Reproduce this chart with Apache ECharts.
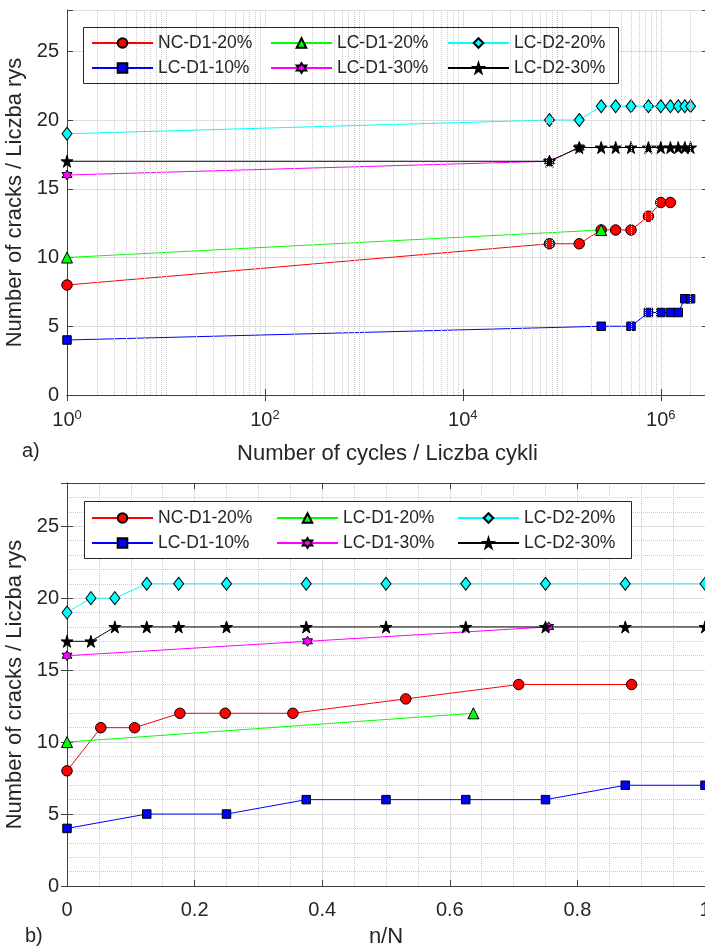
<!DOCTYPE html>
<html>
<head>
<meta charset="utf-8">
<script src="https://cdn.jsdelivr.net/npm/echarts@6/dist/echarts.min.js"></script>
<style>
  html, body { margin: 0; padding: 0; background: #ffffff; }
  #chart { width: 705px; height: 948px; }
</style>
</head>
<body>
<div id="chart"></div>
<script>
// a) number of cycles (log scale)
const ncD1_20_n = [1, 75000, 150000, 250000, 350000, 500000, 750000, 1000000, 1250000]
const lcD1_10_n = [1, 250000, 500000, 750000, 1000000, 1250000, 1500000, 1750000, 2000000]
const lcD1_20_n = [1, 250000]
const lcD1_30_n = [1, 75000, 150000]
const lcD2_20_n = [1, 75000, 150000, 250000, 350000, 500000, 750000, 1000000, 1250000, 1500000, 1750000, 2000000]
const lcD2_30_n = [1, 75000, 150000, 250000, 350000, 500000, 750000, 1000000, 1250000, 1500000, 1750000, 2000000]

// b) relative life n/N
const ncD1_20_r = [0, 0.053, 0.106, 0.177, 0.248, 0.354, 0.531, 0.708, 0.885]
const lcD1_10_r = [0, 0.125, 0.25, 0.375, 0.5, 0.625, 0.75, 0.875, 1]
const lcD1_20_r = [0, 0.637]
const lcD1_30_r = [0, 0.377, 0.755]
const lcD2_20_r = [0, 0.0375, 0.075, 0.125, 0.175, 0.25, 0.375, 0.5, 0.625, 0.75, 0.875, 1]
const lcD2_30_r = [0, 0.0375, 0.075, 0.125, 0.175, 0.25, 0.375, 0.5, 0.625, 0.75, 0.875, 1]

// number of cracks (same for both panels)
const ncD1_20_y = [8, 11, 11, 12, 12, 12, 13, 14, 14]
const lcD1_10_y = [4, 5, 5, 6, 6, 6, 6, 7, 7]
const lcD1_20_y = [10, 12]
const lcD1_30_y = [16, 17, 18]
const lcD2_20_y = [19, 20, 20, 21, 21, 21, 21, 21, 21, 21, 21, 21]
const lcD2_30_y = [17, 17, 18, 18, 18, 18, 18, 18, 18, 18, 18, 18]

const yTicks = [0, 5, 10, 15, 20, 25]

const FONT = '"Liberation Sans", Arial, Helvetica, sans-serif'
const AXIS = '#404040'
const TXT = '#262626'
const GRID = '#dedede'
const MINOR = '#c9c9c9'

const STAR = 'path://M50,0 L61,35 L98,35 L68,57 L79,91 L50,70 L21,91 L32,57 L2,35 L39,35 Z'
const HEXA = 'path://M50,0 L64,25 L93,25 L79,50 L93,75 L64,75 L50,100 L36,75 L7,75 L21,50 L7,25 L36,25 Z'

const styles = [
  { name: 'NC-D1-20%', color: '#ff0000', symbol: 'circle', size: 10.5 },
  { name: 'LC-D1-10%', color: '#0000ff', symbol: 'rect', size: 8.5 },
  { name: 'LC-D1-20%', color: '#00ff00', symbol: 'triangle', size: 11 },
  { name: 'LC-D1-30%', color: '#ff00ff', symbol: HEXA, size: 10 },
  { name: 'LC-D2-20%', color: '#00ffff', symbol: 'diamond', size: [10, 13] },
  { name: 'LC-D2-30%', color: '#000000', symbol: STAR, size: 12 }
]

const panelA = [
  [ncD1_20_n, ncD1_20_y], [lcD1_10_n, lcD1_10_y], [lcD1_20_n, lcD1_20_y],
  [lcD1_30_n, lcD1_30_y], [lcD2_20_n, lcD2_20_y], [lcD2_30_n, lcD2_30_y]
]
const panelB = [
  [ncD1_20_r, ncD1_20_y], [lcD1_10_r, lcD1_10_y], [lcD1_20_r, lcD1_20_y],
  [lcD1_30_r, lcD1_30_y], [lcD2_20_r, lcD2_20_y], [lcD2_30_r, lcD2_30_y]
]

function makeSeries(panel, idx) {
  return panel.map((d, i) => {
    const s = styles[i]
    return {
      name: s.name,
      type: 'line',
      xAxisIndex: idx * 2,
      yAxisIndex: idx * 2,
      data: d[0].map((x, k) => [x, d[1][k]]),
      symbol: s.symbol,
      symbolSize: s.size,
      showAllSymbol: true,
      clip: false,
      z: 2,
      lineStyle: { color: s.color, width: 1 },
      itemStyle: { color: s.color, borderColor: '#000000', borderWidth: 1 }
    }
  })
}

// minor (dotted) grid lines of the log axis: 2..9 x 10^k and odd decades
const logMinor = []
for (let d = 0; d <= 6; d++) {
  for (let k = 1; k <= 9; k++) {
    const v = k * Math.pow(10, d)
    if (v >= 3000000) continue
    if (k === 1 && d % 2 === 0) continue
    logMinor.push(v)
  }
}

const tickLabel = { color: TXT, fontSize: 20, fontFamily: FONT }
const titleText = { color: TXT, fontSize: 22, fontFamily: FONT }

function yAxisPair(grid) {
  return [{
    gridIndex: grid,
    type: 'value',
    min: 0,
    max: 28,
    interval: 5,
    name: 'Number of cracks / Liczba rys',
    nameLocation: 'middle',
    nameGap: 32,
    nameTextStyle: titleText,
    axisLine: { show: true, lineStyle: { color: AXIS } },
    axisTick: { show: true, inside: true, length: 6, lineStyle: { color: AXIS } },
    axisLabel: Object.assign({ margin: 8, formatter: v => (yTicks.indexOf(v) >= 0 ? String(v) : '') }, tickLabel),
    splitLine: { show: true, lineStyle: { color: GRID } },
    minorTick: { show: false, splitNumber: 5 },
    minorSplitLine: { show: grid === 1, lineStyle: { color: MINOR, type: 'dotted' } }
  }, {
    gridIndex: grid,
    type: 'value',
    position: 'right',
    min: 0,
    max: 28,
    interval: 5,
    axisLine: { show: true, lineStyle: { color: AXIS } },
    axisTick: { show: true, inside: true, length: 6, lineStyle: { color: AXIS } },
    axisLabel: { show: false },
    splitLine: { show: false }
  }]
}

const legendBase = {
  orient: 'vertical',
  z: 6,
  itemWidth: 61,
  itemHeight: 12,
  itemGap: 7,
  padding: 0,
  selectedMode: false,
  textStyle: { color: TXT, fontSize: 17.5, lineHeight: 18, fontFamily: FONT }
}

function legendCols(lefts, top) {
  const cols = [['NC-D1-20%', 'LC-D1-10%'], ['LC-D1-20%', 'LC-D1-30%'], ['LC-D2-20%', 'LC-D2-30%']]
  return cols.map((names, i) => Object.assign({}, legendBase, { left: lefts[i], top: top, data: names }))
}

const chart = echarts.init(document.getElementById('chart'))
chart.setOption({
  backgroundColor: '#ffffff',
  animation: false,
  grid: [
    { left: 67, top: 10, width: 641, height: 385, containLabel: false, outerBoundsMode: 'none' },
    { left: 67, top: 483, width: 638, height: 403, containLabel: false, outerBoundsMode: 'none' }
  ],
  xAxis: [{
    gridIndex: 0,
    type: 'log',
    logBase: 10,
    min: 1,
    max: 3000000,
    interval: 2,
    name: 'Number of cycles / Liczba cykli',
    nameLocation: 'middle',
    nameGap: 48,
    nameTextStyle: titleText,
    axisLine: { show: true, lineStyle: { color: AXIS } },
    axisTick: { show: true, inside: true, length: 6, lineStyle: { color: AXIS } },
    axisLabel: {
      margin: 14,
      showMaxLabel: false,
      formatter: v => {
        const e = Math.log10(v)
        if (Math.abs(e - Math.round(e)) > 1e-6) return ''
        return '{b|10}{s|' + Math.round(e) + '}'
      },
      rich: {
        b: { fontSize: 20, color: TXT, fontFamily: FONT, lineHeight: 22 },
        s: { fontSize: 13, color: TXT, fontFamily: FONT, verticalAlign: 'top', lineHeight: 13 }
      }
    },
    splitLine: { show: true, lineStyle: { color: GRID } }
  }, {
    gridIndex: 0,
    type: 'log',
    logBase: 10,
    min: 1,
    max: 3000000,
    interval: 2,
    position: 'top',
    axisLine: { show: true, lineStyle: { color: AXIS } },
    axisTick: { show: true, inside: true, length: 6, lineStyle: { color: AXIS } },
    axisLabel: { show: false },
    splitLine: { show: false }
  }, {
    gridIndex: 1,
    type: 'value',
    min: 0,
    max: 1,
    interval: 0.2,
    name: 'n/N',
    nameLocation: 'middle',
    nameGap: 40,
    nameTextStyle: titleText,
    axisLine: { show: true, onZero: false, lineStyle: { color: AXIS } },
    axisTick: { show: true, inside: true, length: 6, lineStyle: { color: AXIS } },
    axisLabel: Object.assign({ margin: 14 }, tickLabel),
    splitLine: { show: true, lineStyle: { color: GRID } },
    minorTick: { show: false, splitNumber: 4 },
    minorSplitLine: { show: true, lineStyle: { color: MINOR, type: 'dotted' } }
  }, {
    gridIndex: 1,
    type: 'value',
    min: 0,
    max: 1,
    interval: 0.2,
    position: 'top',
    axisLine: { show: true, onZero: false, lineStyle: { color: AXIS } },
    axisTick: { show: true, inside: true, length: 6, lineStyle: { color: AXIS } },
    axisLabel: { show: false },
    splitLine: { show: false }
  }],
  yAxis: yAxisPair(0).concat(yAxisPair(1)),
  legend: legendCols([91, 270, 447], 34).concat(legendCols([91, 276, 457], 509)),
  graphic: [
    { type: 'rect', z: 3, shape: { x: 83.5, y: 27.5, width: 535, height: 56 },
      style: { fill: '#ffffff', stroke: '#262626', lineWidth: 1 } },
    { type: 'rect', z: 3, shape: { x: 84.5, y: 501.5, width: 547, height: 57 },
      style: { fill: '#ffffff', stroke: '#262626', lineWidth: 1 } },
    { type: 'text', left: 22, top: 441, style: { text: 'a)', fill: TXT, font: '20px ' + FONT } },
    { type: 'text', left: 25, top: 926, style: { text: 'b)', fill: TXT, font: '20px ' + FONT } }
  ],
  series: [{
    name: 'minor-grid-a',
    type: 'line',
    xAxisIndex: 0,
    yAxisIndex: 0,
    data: [],
    z: 1,
    silent: true,
    markLine: {
      silent: true,
      symbol: ['none', 'none'],
      label: { show: false },
      lineStyle: { color: MINOR, type: 'dotted', width: 1 },
      data: logMinor.map(v => ({ xAxis: v }))
    }
  }].concat(makeSeries(panelA, 0), makeSeries(panelB, 1))
})
</script>
</body>
</html>
